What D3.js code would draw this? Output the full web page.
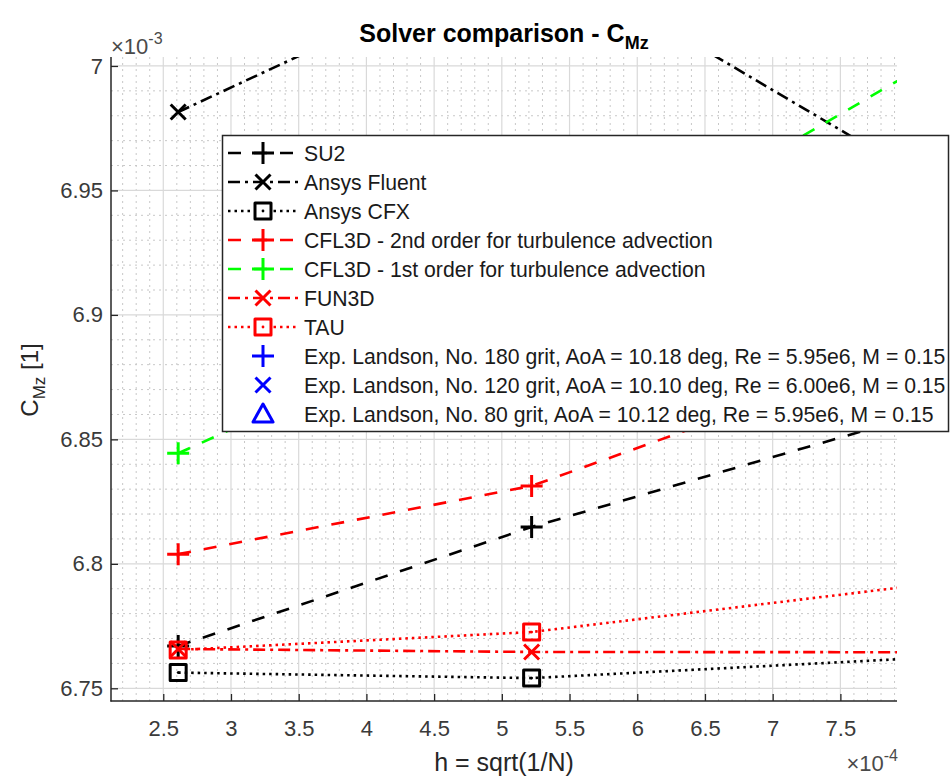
<!DOCTYPE html>
<html>
<head>
<meta charset="utf-8">
<script src="https://cdn.jsdelivr.net/npm/d3@7"></script>
<style>
  html, body { margin: 0; padding: 0; background: #fff; }
  svg { display: block; font-family: "Liberation Sans", Arial, Helvetica, sans-serif; }
</style>
</head>
<body>
<svg id="chart" width="951" height="778"></svg>
<script>
// Mesh spacing h = sqrt(1/N) for the three grid levels
const hValues = [2.61e-4, 5.22e-4, 10.44e-4];

// Yawing-moment coefficient C_Mz per solver
const su2      = [6.7670e-3, 6.8148e-3, 6.8971e-3];
const fluent   = [6.9815e-3, 7.0474e-3, 6.8800e-3];
const cfx      = [6.7563e-3, 6.7541e-3, 6.7687e-3];
const cfl3d2nd = [6.8039e-3, 6.8313e-3, 6.9333e-3];
const cfl3d1st = [6.8444e-3, 6.9087e-3, 7.0735e-3];
const fun3d    = [6.7658e-3, 6.7646e-3, 6.7644e-3];
const tau      = [6.7654e-3, 6.7726e-3, 6.8069e-3];

// Axis ticks (in units of the axis exponent)
const xTicks = [2.5, 3, 3.5, 4, 4.5, 5, 5.5, 6, 6.5, 7, 7.5];
const yTicks = [6.75, 6.8, 6.85, 6.9, 6.95, 7];
const xMinor = d3.range(22, 80).map(d => d / 10);
const yMinor = d3.range(675, 701).map(d => d / 100);

const solverNames = ["SU2", "Ansys Fluent", "Ansys CFX",
  "CFL3D - 2nd order for turbulence advection",
  "CFL3D - 1st order for turbulence advection",
  "FUN3D", "TAU"];
const expNames = [
  "Exp. Landson, No. 180 grit, AoA = 10.18 deg, Re = 5.95e6, M = 0.15",
  "Exp. Landson, No. 120 grit, AoA = 10.10 deg, Re = 6.00e6, M = 0.15",
  "Exp. Landson, No. 80 grit, AoA = 10.12 deg, Re = 5.95e6, M = 0.15"];

const series = [
  { name: solverNames[0], values: su2,      color: "#000000", dash: "13,13",      marker: "plus" },
  { name: solverNames[1], values: fluent,   color: "#000000", dash: "12,5,3,5",   marker: "cross" },
  { name: solverNames[2], values: cfx,      color: "#000000", dash: "2.5,4",      marker: "square" },
  { name: solverNames[3], values: cfl3d2nd, color: "#ff0000", dash: "13,13",      marker: "plus" },
  { name: solverNames[4], values: cfl3d1st, color: "#00ff00", dash: "13,13",      marker: "plus" },
  { name: solverNames[5], values: fun3d,    color: "#ff0000", dash: "12,5,3,5",   marker: "cross" },
  { name: solverNames[6], values: tau,      color: "#ff0000", dash: "2.5,4",      marker: "square" }
];
const expSeries = [
  { name: expNames[0], color: "#0000ff", marker: "plus" },
  { name: expNames[1], color: "#0000ff", marker: "cross" },
  { name: expNames[2], color: "#0000ff", marker: "triangle" }
];

const svg = d3.select("#chart");
const plot = { left: 111, right: 897, top: 57, bottom: 701 };

const x = d3.scaleLinear().domain([2.114e-4, 7.918e-4]).range([plot.left, plot.right]);
const y = d3.scaleLinear().domain([6.7449e-3, 7.0036e-3]).range([plot.bottom, plot.top]);
const xE = 1e-4, yE = 1e-3;

svg.append("defs").append("clipPath").attr("id", "clip")
  .append("rect").attr("x", plot.left).attr("y", plot.top)
  .attr("width", plot.right - plot.left).attr("height", plot.bottom - plot.top);

// Minor grid
const grid = svg.append("g");
grid.selectAll(".xm").data(xMinor.filter(d => !xTicks.includes(d))).join("line")
  .attr("x1", d => x(d * xE)).attr("x2", d => x(d * xE))
  .attr("y1", plot.top).attr("y2", plot.bottom)
  .attr("stroke", "#c8c8c8").attr("stroke-width", 1).attr("stroke-dasharray", "2,4");
grid.selectAll(".ym").data(yMinor.filter(d => !yTicks.some(t => Math.abs(t - d) < 1e-9))).join("line")
  .attr("y1", d => y(d * yE)).attr("y2", d => y(d * yE))
  .attr("x1", plot.left).attr("x2", plot.right)
  .attr("stroke", "#c8c8c8").attr("stroke-width", 1).attr("stroke-dasharray", "2,4");
// Major grid
grid.selectAll(".xg").data(xTicks).join("line")
  .attr("x1", d => x(d * xE)).attr("x2", d => x(d * xE))
  .attr("y1", plot.top).attr("y2", plot.bottom)
  .attr("stroke", "#d9d9d9").attr("stroke-width", 1.2);
grid.selectAll(".yg").data(yTicks).join("line")
  .attr("y1", d => y(d * yE)).attr("y2", d => y(d * yE))
  .attr("x1", plot.left).attr("x2", plot.right)
  .attr("stroke", "#d9d9d9").attr("stroke-width", 1.2);

// Marker shapes
function markerPath(type, s) {
  const h = s / 2;
  if (type === "plus") return `M${-h},0H${h}M0,${-h}V${h}`;
  if (type === "cross") return `M${-h},${-h}L${h},${h}M${-h},${h}L${h},${-h}`;
  if (type === "square") return `M${-h},${-h}H${h}V${h}H${-h}Z`;
  if (type === "triangle") return `M0,${-h}L${h},${h * 0.8}H${-h}Z`;
  return "";
}
const markerSize = { plus: 22, cross: 15, square: 16, triangle: 20 };

// Series lines and markers
const data = svg.append("g").attr("clip-path", "url(#clip)");
const line = d3.line().x(d => x(d[0])).y(d => y(d[1]));
series.forEach(s => {
  const pts = hValues.map((h, i) => [h, s.values[i]]);
  data.append("path").datum(pts).attr("d", line)
    .attr("fill", "none").attr("stroke", s.color).attr("stroke-width", 2.6)
    .attr("stroke-dasharray", s.dash);
  data.selectAll(null).data(pts).join("path")
    .attr("transform", d => `translate(${x(d[0])},${y(d[1])})`)
    .attr("d", markerPath(s.marker, markerSize[s.marker]))
    .attr("fill", "none").attr("stroke", s.color).attr("stroke-width", 3)
    .attr("stroke-linejoin", "round");
  if (s.marker === "square") {
    data.selectAll(null).data(pts).join("circle")
      .attr("cx", d => x(d[0])).attr("cy", d => y(d[1])).attr("r", 1.4)
      .attr("fill", s.color);
  }
});

// Axes
const axisColor = "#262626";
const xAxis = d3.axisBottom(x).tickValues(xTicks.map(d => d * xE))
  .tickSize(-7).tickPadding(19).tickFormat(d => String(+(d / xE).toFixed(2)));
const gx = svg.append("g").attr("transform", `translate(0,${plot.bottom})`).call(xAxis);
const yAxis = d3.axisLeft(y).tickValues(yTicks.map(d => d * yE))
  .tickSize(-7).tickPadding(8).tickFormat(d => String(+(d / yE).toFixed(3)));
const gy = svg.append("g").attr("transform", `translate(${plot.left},0)`).call(yAxis);
[gx, gy].forEach(g => {
  g.select(".domain").remove();
  g.selectAll(".tick line").attr("stroke", axisColor).attr("stroke-width", 1.3);
  g.selectAll(".tick text").attr("fill", "#3a3a3a").attr("font-size", 22)
    .attr("font-family", "Liberation Sans, Arial, sans-serif");
});
svg.append("line").attr("x1", plot.left).attr("x2", plot.left)
  .attr("y1", plot.top).attr("y2", plot.bottom + 0.6)
  .attr("stroke", axisColor).attr("stroke-width", 1.5);
svg.append("line").attr("x1", plot.left - 0.6).attr("x2", plot.right)
  .attr("y1", plot.bottom).attr("y2", plot.bottom)
  .attr("stroke", axisColor).attr("stroke-width", 1.5);

// Exponent labels
function expLabel(xp, yp, exp, anchor) {
  const t = svg.append("text").attr("x", xp).attr("y", yp)
    .attr("text-anchor", anchor)
    .attr("fill", "#4a4a4a").attr("font-size", 22);
  t.append("tspan").text("\u00d7");
  t.append("tspan").text("10");
  t.append("tspan").attr("dy", -10).attr("font-size", 16).text(exp);
}
expLabel(111, 54, "-3", "start");
expLabel(898, 771, "-4", "end");

// Title
const title = svg.append("text").attr("x", 504).attr("y", 42)
  .attr("text-anchor", "middle").attr("font-size", 25).attr("font-weight", "bold")
  .attr("fill", "#000");
title.append("tspan").text("Solver comparison - C");
title.append("tspan").attr("dy", 7).attr("font-size", 18).text("Mz");

// Axis labels
svg.append("text").attr("x", 504).attr("y", 771).attr("text-anchor", "middle")
  .attr("font-size", 25).attr("fill", "#262626").text("h = sqrt(1/N)");
const yl = svg.append("text").attr("transform", "translate(38,380) rotate(-90)")
  .attr("text-anchor", "middle").attr("font-size", 24).attr("fill", "#262626");
yl.append("tspan").text("C");
yl.append("tspan").attr("dy", 7).attr("font-size", 17).text("Mz");
yl.append("tspan").attr("dy", -7).text(" [1]");

// Legend
const leg = svg.append("g");
leg.append("rect").attr("x", 222.5).attr("y", 135.5).attr("width", 726).attr("height", 296)
  .attr("fill", "#fff").attr("stroke", axisColor).attr("stroke-width", 1.5);
const rowY = i => 153 + i * 29;
series.forEach((s, i) => {
  const yy = rowY(i);
  leg.append("line").attr("x1", 228).attr("x2", 298).attr("y1", yy).attr("y2", yy)
    .attr("stroke", s.color).attr("stroke-width", 2.6).attr("stroke-dasharray", s.dash);
  leg.append("path").attr("transform", `translate(263,${yy})`)
    .attr("d", markerPath(s.marker, markerSize[s.marker]))
    .attr("fill", s.marker === "square" ? "#fff" : "none")
    .attr("stroke", s.color).attr("stroke-width", 3).attr("stroke-linejoin", "round");
  if (s.marker === "square") {
    leg.append("circle").attr("cx", 263).attr("cy", yy).attr("r", 1.4).attr("fill", s.color);
  }
  leg.append("text").attr("x", 304).attr("y", yy + 7.5).attr("font-size", 21.2)
    .attr("fill", "#1a1a1a").text(s.name);
});
expSeries.forEach((s, j) => {
  const yy = rowY(series.length + j);
  leg.append("path").attr("transform", `translate(263,${yy})`)
    .attr("d", markerPath(s.marker, markerSize[s.marker]))
    .attr("fill", "none").attr("stroke", s.color).attr("stroke-width", 3)
    .attr("stroke-linejoin", "round");
  leg.append("text").attr("x", 304).attr("y", yy + 7.5).attr("font-size", 21.2)
    .attr("fill", "#1a1a1a").text(s.name);
});
</script>
</body>
</html>
